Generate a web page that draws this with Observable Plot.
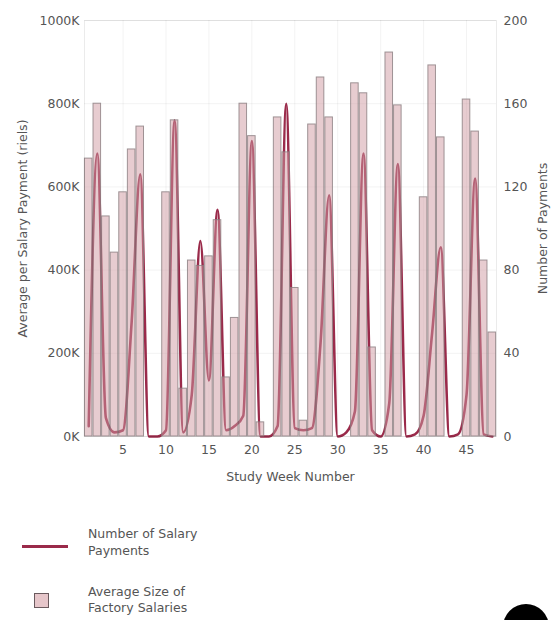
<!DOCTYPE html>
<html>
<head>
<meta charset="utf-8">
<script src="https://cdn.jsdelivr.net/npm/d3@7"></script>
<script src="https://cdn.jsdelivr.net/npm/@observablehq/plot@0.6"></script>
<style>
  html, body { margin: 0; padding: 0; background: #fff; overflow: hidden; }
  #wrap { position: relative; width: 556px; height: 620px; font-family: "DejaVu Sans", sans-serif; }
  .sw-line { position: absolute; left: 22px; top: 545px; width: 46px; height: 3px; background: #9a2a4a; }
  .sw-box { position: absolute; left: 34px; top: 593px; width: 13px; height: 13px; background: #e6c6ca; border: 1.5px solid #6a5a5e; }
  .lt { position: absolute; left: 88px; }
  #dot { position: absolute; left: 503px; top: 604px; width: 46px; height: 46px; border-radius: 50%; background: #000; }
</style>
</head>
<body>
<div id="wrap">
  <div id="chart"></div>
  <div class="sw-line"></div>
  <div class="lt" style="top:525px; color:#555; font-size:12.5px; line-height:17px;">Number of Salary<br>Payments</div>
  <div class="sw-box"></div>
  <div class="lt" style="top:584px; color:#555; font-size:12.5px; line-height:16px;">Average Size of<br>Factory Salaries</div>
  <div id="dot"></div>
</div>
<script>
const weeks = [1,2,3,4,5,6,7,8,9,10,11,12,13,14,15,16,17,18,19,20,21,22,23,24,25,26,27,28,29,30,31,32,33,34,35,36,37,38,39,40,41,42,43,44,45,46,47,48];
const avgSalary = [668000,800000,529000,442000,587000,690000,745000,0,0,587000,760000,115000,423000,410000,433000,520000,142000,285000,800000,722000,34000,0,767000,683000,357000,38000,750000,863000,767000,0,0,849000,825000,214000,0,923000,796000,0,0,575000,892000,719000,0,0,810000,733000,423000,250000];
const numPayments = [5,136,9,2,3,55,126,0,0,3,152,2,20,94,27,109,3,5,10,142,0,0,5,160,4,3,4,45,116,0,2,12,136,3,0,16,131,0,1,10,50,91,0,1,20,124,1,0];
const leftTicks = [0,200000,400000,600000,800000,1000000];
const rightTicks = [0,40,80,120,160,200];
const xTicks = [5,10,15,20,25,30,35,40,45];

const k = 1000000 / 200; // right-axis scale factor onto the left y scale
const rows = weeks.map((w, i) => ({week: w, avg: avgSalary[i], n: numPayments[i]}));

const chart = Plot.plot({
  width: 556,
  height: 500,
  marginLeft: 84,
  marginRight: 60,
  marginTop: 20,
  marginBottom: 64,
  style: {fontFamily: "DejaVu Sans, sans-serif", fontSize: "12.5px", color: "#555", background: "#fff"},
  x: {type: "band", domain: weeks, padding: 0.12, paddingOuter: 0.05, round: false},
  y: {domain: [0, 1000000]},
  marks: [
    Plot.gridY(leftTicks, {stroke: "#000", strokeOpacity: 0.05}),
    Plot.gridX(xTicks, {stroke: "#000", strokeOpacity: 0.05}),
    Plot.line(rows, {x: "week", y: d => d.n * k, stroke: "#9a2a4a", strokeWidth: 2.6, curve: "monotone-x"}),
    Plot.barY(rows, {x: "week", y: "avg", fill: "#cf9aa2", fillOpacity: 0.5, stroke: "#8a7d80", strokeOpacity: 0.8, strokeWidth: 1}),
    Plot.frame({stroke: "#000", strokeOpacity: 0.08}),
    Plot.axisX(xTicks, {tickSize: 0, tickPadding: 9, label: "Study Week Number", labelAnchor: "center", labelOffset: 44, labelArrow: "none", fontSize: 12.5, color: "#555"}),
    Plot.axisY(leftTicks, {anchor: "left", tickSize: 0, tickPadding: 5, tickFormat: d => (d / 1000) + "K", label: "Average per Salary Payment (riels)", labelAnchor: "center", labelOffset: 66, labelArrow: "none", fontSize: 12.5}),
    Plot.axisY(rightTicks.map(d => d * k), {anchor: "right", tickSize: 0, tickPadding: 7, tickFormat: d => d / k, label: "Number of Payments", labelAnchor: "center", labelOffset: 50, labelArrow: "none", fontSize: 12.5})
  ]
});
document.getElementById("chart").appendChild(chart);
</script>
</body>
</html>
